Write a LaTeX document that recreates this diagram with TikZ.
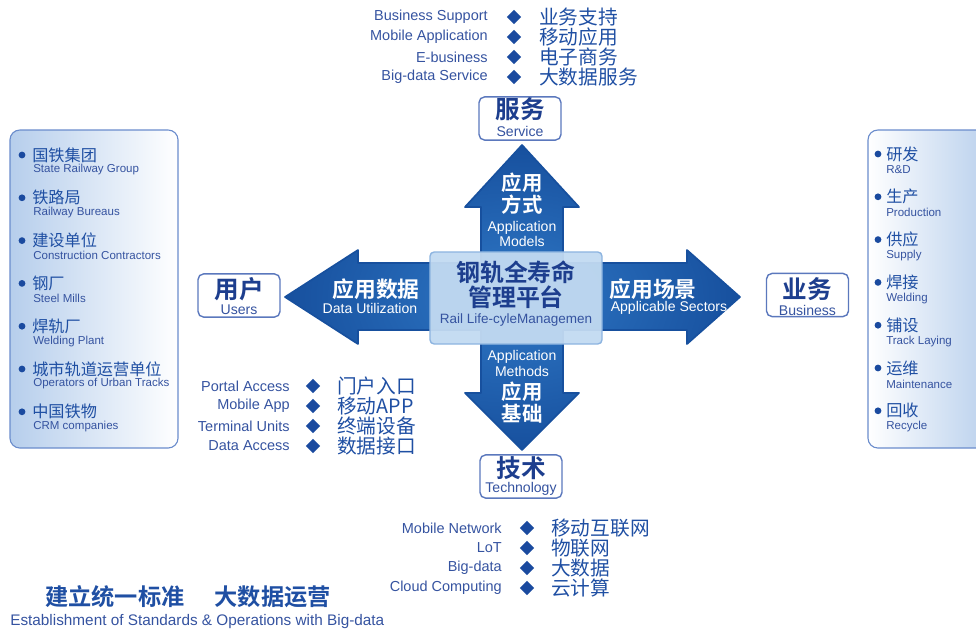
\documentclass[tikz,border=0pt]{standalone}
\usepackage{fontspec}
\setmainfont{Liberation Sans}
\newfontfamily\cjk{Noto Sans CJK SC}[BoldFont={Noto Sans CJK SC Bold}]
\usetikzlibrary{shapes.geometric}
\definecolor{zhblue}{HTML}{1F4FA3}
\definecolor{enblue}{HTML}{3553A0}
\definecolor{diablue}{HTML}{1A4A9F}
\definecolor{tagline}{HTML}{5B78BD}
\definecolor{tagtext}{HTML}{1D3E8E}
\definecolor{arrowlt}{HTML}{2F78C6}
\definecolor{arrowdk}{HTML}{17509E}
\definecolor{ctrfill}{HTML}{C2DAF1}
\definecolor{ctredge}{HTML}{8DB4E0}
\definecolor{pnlfill}{HTML}{B6CEEC}
\definecolor{pnlline}{HTML}{6A8CCC}

\begin{document}
\begin{tikzpicture}[x=0.025cm, y=-0.025cm,
    en/.style    = {text=enblue, font=\fontsize{10.3}{12}\selectfont, inner sep=0pt},
    zh/.style    = {text=zhblue, font=\cjk\fontsize{14}{16}\selectfont, inner sep=0pt},
    dia/.style   = {diamond, fill=diablue, inner sep=0pt, minimum size=0.36cm},
    dot/.style   = {circle, fill=diablue, inner sep=0pt, minimum size=0.17cm},
    tag/.style   = {draw=tagline, line width=1pt, rounded corners=4pt, fill=white, minimum width=2.05cm, minimum height=1.08cm},
    tagzh/.style = {text=tagtext, font=\cjk\bfseries\fontsize{17.5}{19}\selectfont, inner sep=0pt},
    tagen/.style = {text=enblue, font=\fontsize{10}{12}\selectfont, inner sep=0pt},
    pzh/.style   = {text=zhblue, font=\cjk\fontsize{11.5}{13}\selectfont, inner sep=0pt, anchor=west},
    pen/.style   = {text=enblue, font=\fontsize{8.2}{10}\selectfont, inner sep=0pt, anchor=west},
    azh/.style   = {text=white, font=\cjk\bfseries\fontsize{15.5}{17}\selectfont, inner sep=0pt},
    vzh/.style   = {text=white, font=\cjk\bfseries\fontsize{14.5}{16}\selectfont, inner sep=0pt},
    aen/.style   = {text=white, font=\fontsize{10}{12}\selectfont, inner sep=0pt},
    pnl/.style   = {draw=pnlline, line width=0.8pt, rounded corners=7pt}]

    \useasboundingbox (0,0) rectangle (976,633);

    \draw[pnl, left color=pnlfill, right color=white] (10,130) rectangle (178,448);
    \draw[pnl, left color=white, right color=pnlfill] (868,130) rectangle (995,448);

    \foreach \zh/\en [count=\i] in {国铁集团/State Railway Group, 铁路局/Railway Bureaus, 建设单位/Construction Contractors, 钢厂/Steel Mills, 焊轨厂/Welding Plant, 城市轨道运营单位/Operators of Urban Tracks, 中国铁物/CRM companies} {
        \node[dot] (l-dot-\i) at (22,{155+42.8*(\i-1)}) {};
        \node[pzh] (l-zh-\i)  at (32,{155+42.8*(\i-1)}) {\zh};
        \node[pen] (l-en-\i)  at (33,{170+42.8*(\i-1)}) {\en};
    }
    \foreach \zh/\en [count=\i] in {研发/R\&D, 生产/Production, 供应/Supply, 焊接/Welding, 铺设/Track Laying, 运维/Maintenance, 回收/Recycle} {
        \node[dot] (r-dot-\i) at (878,{154+42.8*(\i-1)}) {};
        \node[pzh] (r-zh-\i)  at (886,{154+42.8*(\i-1)}) {\zh};
        \node[pen] (r-en-\i)  at (886,{170+42.8*(\i-1)}) {\en};
    }

    \draw[inner color=arrowlt, outer color=arrowdk, draw=arrowdk, line width=1.2pt, line join=round]
        (285,297) -- (358,250) -- (358,263) -- (481,263) -- (481,207) -- (465,207) -- (522,145)
        -- (579,207) -- (563,207) -- (563,263) -- (687,263) -- (687,250) -- (740,297)
        -- (687,344) -- (687,330) -- (563,330) -- (563,393) -- (579,393) -- (522,450)
        -- (465,393) -- (481,393) -- (481,330) -- (358,330) -- (358,344) -- cycle;

    \node[vzh] (up-zh1) at (522,183) {应用};
    \node[vzh] (up-zh2) at (522,205) {方式};
    \node[aen] (up-en1) at (522,228) {Application};
    \node[aen] (up-en2) at (522,241) {Models};
    \node[aen] (dn-en1) at (522,357) {Application};
    \node[aen] (dn-en2) at (522,371) {Methods};
    \node[vzh] (dn-zh1) at (522,392) {应用};
    \node[vzh] (dn-zh2) at (522,414) {基础};
    \node[azh] (lt-zh)  at (376,289) {应用数据};
    \node[aen] (lt-en)  at (370,308) {Data Utilization};
    \node[azh] (rt-zh)  at (653,289) {应用场景};
    \node[aen] (rt-en)  at (669,308) {Applicable Sectors};

    \node[draw=ctredge, line width=1pt, fill=ctrfill, fill opacity=0.95, rounded corners=3pt,
          minimum width=4.3cm, minimum height=2.3cm] (ctr) at (516,298) {};
    \node[tagzh, font=\cjk\bfseries\fontsize{17}{19}\selectfont] (ctr-zh1) at (516,272) {钢轨全寿命};
    \node[tagzh, font=\cjk\bfseries\fontsize{17}{19}\selectfont] (ctr-zh2) at (516,297) {管理平台};
    \node[tagen, font=\fontsize{9.6}{11}\selectfont] (ctr-en) at (516,320) {Rail Life-cyleManagemen};

    \node[tag]   (svc)    at (520,118.5) {};
    \node[tagzh] (svc-zh) at (520,109)   {服务};
    \node[tagen] (svc-en) at (520,131)   {Service};
    \node[tag]   (usr)    at (239,295.5) {};
    \node[tagzh] (usr-zh) at (239,289)   {用户};
    \node[tagen] (usr-en) at (239,310)   {Users};
    \node[tag]   (biz)    at (807.5,295) {};
    \node[tagzh] (biz-zh) at (807.5,289) {业务};
    \node[tagen] (biz-en) at (807.5,310) {Business};
    \node[tag]   (tec)    at (521,476.5) {};
    \node[tagzh] (tec-zh) at (521,468)   {技术};
    \node[tagen] (tec-en) at (521,489)   {Technology};

    \foreach \en/\zh [count=\i] in {Business Support/业务支持, Mobile Application/移动应用, E-business/电子商务, Big-data Service/大数据服务} {
        \node[en, anchor=east]  (t-en-\i)  at (488,{17+20*(\i-1)}) {\en};
        \node[dia]              (t-dia-\i) at (514,{17+20*(\i-1)}) {};
        \node[zh, anchor=west]  (t-zh-\i)  at (539,{17+20*(\i-1)}) {\zh};
    }
    \foreach \en/\zh [count=\i] in {Portal Access/门户入口, Mobile App/移动APP, Terminal Units/终端设备, Data Access/数据接口} {
        \node[en, anchor=east]  (m-en-\i)  at (290,{386+20*(\i-1)}) {\en};
        \node[dia]              (m-dia-\i) at (313,{386+20*(\i-1)}) {};
        \node[zh, anchor=west]  (m-zh-\i)  at (337,{386+20*(\i-1)}) {\zh};
    }
    \foreach \en/\zh [count=\i] in {Mobile Network/移动互联网, LoT/物联网, Big-data/大数据, Cloud Computing/云计算} {
        \node[en, anchor=east]  (b-en-\i)  at (502,{528+20*(\i-1)}) {\en};
        \node[dia]              (b-dia-\i) at (527,{528+20*(\i-1)}) {};
        \node[zh, anchor=west]  (b-zh-\i)  at (551,{528+20*(\i-1)}) {\zh};
    }

    \node[zh, anchor=west, font=\cjk\bfseries\fontsize{16.5}{18}\selectfont] (std-zh) at (45,597) {建立统一标准\hspace{1.3em}大数据运营};
    \node[en, anchor=west, font=\fontsize{10.9}{12}\selectfont]              (std-en) at (10,622) {Establishment of Standards \& Operations with Big-data};
\end{tikzpicture}
\end{document}
